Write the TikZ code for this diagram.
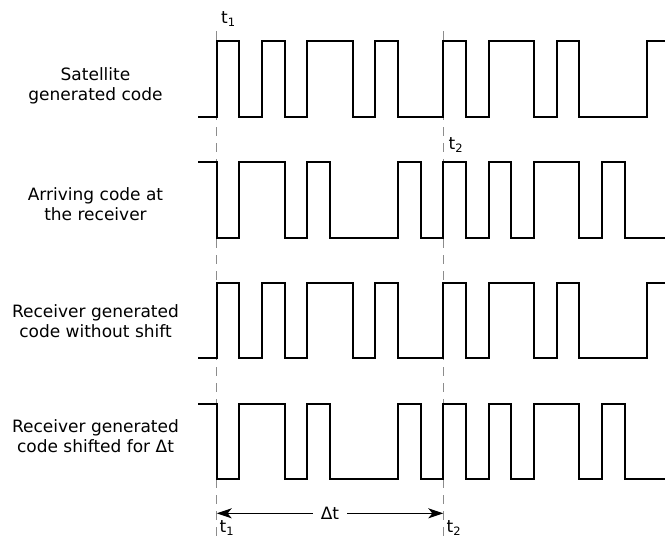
\documentclass[tikz,border=0pt]{standalone}
\usepackage{fontspec}
\setmainfont{DejaVu Sans}
\usetikzlibrary{arrows.meta}
\newcommand{\drawwave}[4]{%
  \draw[wave] (198,{#2-#3*(#2-#1)})
    \foreach \b [count=\i from 0, remember=\b as \p (initially #3)] in {#4} {
      -- ({216.6667+\i*22.6667},{#2-\p*(#2-#1)})
      -- ({216.6667+\i*22.6667},{#2-\b*(#2-#1)})
    }
    -- ++(18,0);%
}
\tikzset{
  wave/.style={line width=1.7pt, line join=miter, black},
  guide/.style={draw=black!45, line width=1.3pt, dash pattern=on 9pt off 7pt},
  lbl/.style={align=center, font=\fontsize{17}{20.5}\selectfont, inner sep=0pt},
  tlbl/.style={anchor=base west, inner sep=0pt, font=\fontsize{17}{20.5}\selectfont},
  dimarrow/.style={{Stealth[length=15pt,width=10pt,inset=4pt]}-{Stealth[length=15pt,width=10pt,inset=4pt]}, line width=1.3pt}
}
\newcommand{\sub}[1]{\raisebox{-3pt}{\fontsize{11.5}{12}\selectfont #1}}
\begin{document}
\begin{tikzpicture}[x=1pt,y=-1pt]
\useasboundingbox (0,0) rectangle (665,547);
% guide lines
\coordinate (g1t) at (216.67,31);
\coordinate (g1b) at (216.67,538);
\coordinate (g2t) at (443.33,31);
\coordinate (g2b) at (443.33,538);
\draw[guide] (g1t) -- (g1b);
\draw[guide] (g2t) -- (g2b);
% waveforms
\drawwave{40.7}{116.7}{0}{1,0,1,0,1,1,0,1,0,0,1,0,1,1,0,1,0,0,0,1}
\drawwave{161.7}{237.7}{1}{0,1,1,0,1,0,0,0,1,0,1,0,1,0,1,1,0,1,0,0}
\drawwave{282.7}{358.3}{0}{1,0,1,0,1,1,0,1,0,0,1,0,1,1,0,1,0,0,0,1}
\drawwave{404}{479.3}{1}{0,1,1,0,1,0,0,0,1,0,1,0,1,0,1,1,0,1,0,0}
% labels
\node[lbl] (l1) at (95.5,85.8) {Satellite\\generated code};
\node[lbl] (l2) at (95.5,204) {Arriving code at\\the receiver};
\node[lbl] (l3) at (95.5,321) {Receiver generated\\code without shift};
\node[lbl] (l4) at (95.5,436) {Receiver generated\\code shifted for Δt};
% time labels
\node[tlbl] (t1a) at (221,23.3) {t\sub{1}};
\node[tlbl] (t2a) at (448.5,149.5) {t\sub{2}};
\node[tlbl] (t1b) at (219.5,532.3) {t\sub{1}};
\node[tlbl] (t2b) at (446.5,532.3) {t\sub{2}};
% delta t arrow
\coordinate (a1) at (216.67,513.3);
\coordinate (a2) at (443.33,513.3);
\draw[dimarrow] (a1) -- node[fill=white, inner xsep=8pt, inner ysep=2pt, font=\fontsize{17}{20.5}\selectfont] (dt) {Δt} (a2);
\end{tikzpicture}
\end{document}
